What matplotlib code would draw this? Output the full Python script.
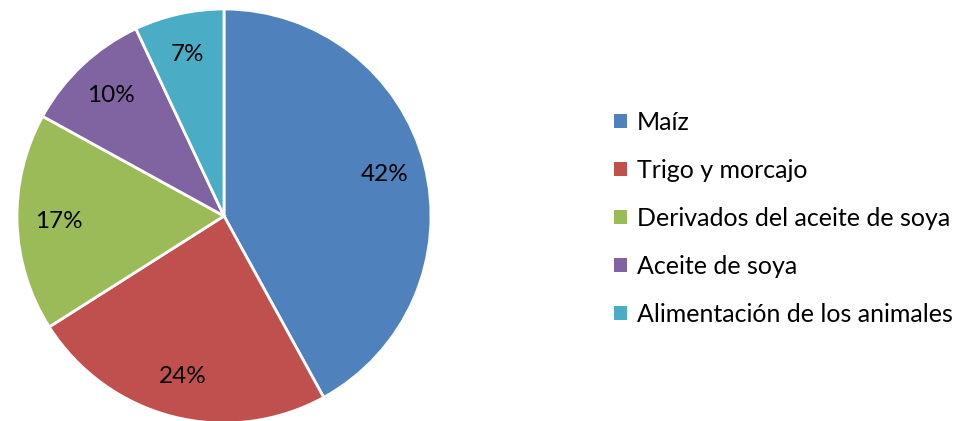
import matplotlib.pyplot as plt
from matplotlib.patches import Patch

categorias = ['Maíz', 'Trigo y morcajo', 'Derivados del aceite de soya',
              'Aceite de soya', 'Alimentación de los animales']
valores = [42, 24, 17, 10, 7]
colores = ['#4F81BD', '#C0504D', '#9BBB59', '#8064A2', '#4BACC6']

plt.rcParams['font.family'] = ['Lato', 'DejaVu Sans']

fig = plt.figure(figsize=(9.67, 4.21), dpi=100)
# pie centred at (224, 216) px with radius ~207 px
ax = fig.add_axes([17/967, -2/421, 414/967, 414/421])
wedges, texts, autotexts = ax.pie(
    valores, colors=colores, startangle=90, counterclock=False,
    autopct='%d%%', pctdistance=0.8, radius=1,
    wedgeprops=dict(edgecolor='white', linewidth=2),
    textprops=dict(fontsize=17.5, color='black'))
ax.set_xlim(-1.0, 1.0)
ax.set_ylim(-1.0, 1.0)
ax.axis('off')

handles = [Patch(facecolor=c, edgecolor='none') for c in colores]
fig.legend(handles, categorias, loc='upper left', bbox_to_anchor=(614/967, 1 - 111/421),
           frameon=False, fontsize=18, handlelength=0.52, handleheight=0.52,
           handletextpad=0.4, labelspacing=1.0, borderaxespad=0, borderpad=0)

fig.savefig('out.png', dpi=100)
